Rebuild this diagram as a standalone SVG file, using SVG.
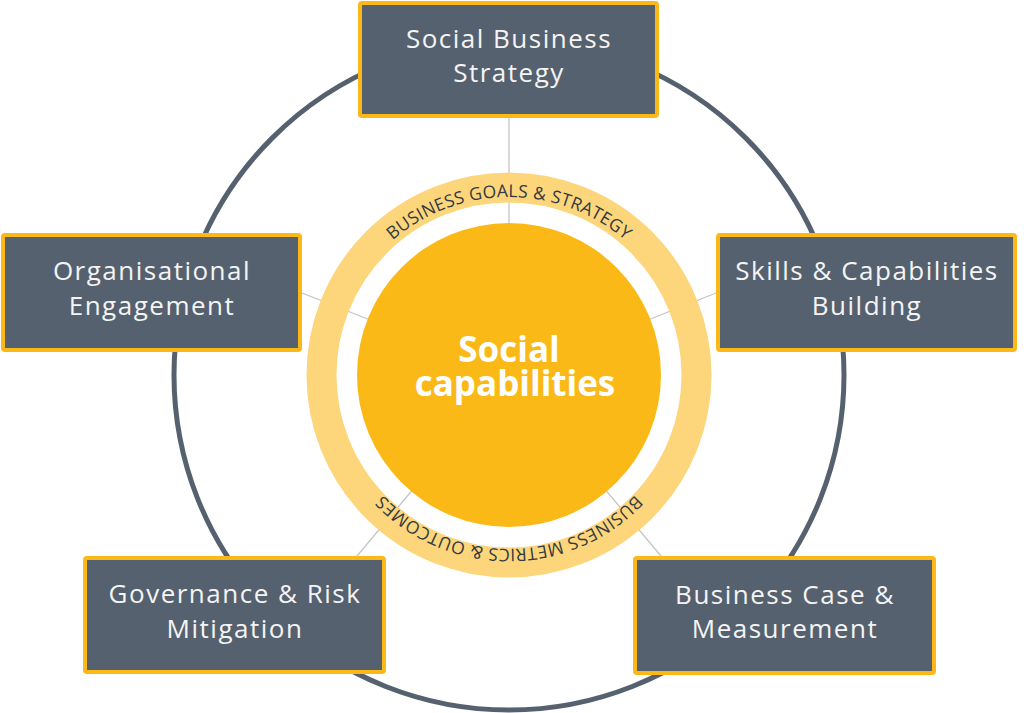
<svg xmlns="http://www.w3.org/2000/svg" width="1024" height="713" viewBox="0 0 1024 713">
<style>
.box{fill:#56616f;stroke:#fbb817;stroke-width:4;}
.bt{font-family:"Open Sans","Liberation Sans",sans-serif;font-size:26px;letter-spacing:1.5px;fill:#f4f4f4;text-anchor:middle;}
.ct{font-family:"Open Sans","Liberation Sans",sans-serif;font-size:17.5px;letter-spacing:0.3px;fill:#333a42;}
.conn{stroke:#c4c4c4;stroke-width:1.3;fill:none;}
</style>
<defs>
<path id="arcTop" d="M 331 375 A 178 178 0 0 1 687 375"/>
<path id="arcBot" d="M 683 375 A 174 174 0 0 1 335 375"/>
</defs>
<rect width="1024" height="713" fill="#ffffff"/>
<circle id="outer-ring" cx="509" cy="375" r="335" fill="none" stroke="#56616f" stroke-width="5"/>
<g id="connectors">
<line class="conn" x1="509" y1="375" x2="509" y2="117"/>
<line class="conn" x1="509" y1="375" x2="302" y2="293"/>
<line class="conn" x1="509" y1="375" x2="716" y2="293"/>
<line class="conn" x1="509" y1="375" x2="357" y2="556"/>
<line class="conn" x1="509" y1="375" x2="661" y2="556"/>
</g>
<g id="center">
<circle cx="509" cy="375" r="187.5" fill="none" stroke="#fdd57b" stroke-width="30"/>
<circle cx="509" cy="375" r="152" fill="#fbb917"/>
<text class="ct"><textPath href="#arcTop" startOffset="50%" text-anchor="middle">BUSINESS GOALS &amp; STRATEGY</textPath></text>
<text class="ct"><textPath href="#arcBot" startOffset="50%" text-anchor="middle">BUSINESS METRICS &amp; OUTCOMES</textPath></text>
<text font-family="'Open Sans','Liberation Sans',sans-serif" font-weight="bold" font-size="35" fill="#ffffff" text-anchor="middle"><tspan x="509" y="362">Social</tspan><tspan x="515" y="396">capabilities</tspan></text>
</g>
<g id="node-strategy">
<rect class="box" x="360" y="3" width="297" height="113" rx="2"/>
<text class="bt"><tspan x="509" y="48">Social Business</tspan><tspan x="509" y="82">Strategy</tspan></text>
</g>
<g id="node-engagement">
<rect class="box" x="3" y="235" width="297" height="115" rx="2"/>
<text class="bt"><tspan x="152" y="280">Organisational</tspan><tspan x="152" y="315">Engagement</tspan></text>
</g>
<g id="node-skills">
<rect class="box" x="718" y="235" width="297" height="115" rx="2"/>
<text class="bt"><tspan x="867" y="280">Skills &amp; Capabilities</tspan><tspan x="867" y="315">Building</tspan></text>
</g>
<g id="node-governance">
<rect class="box" x="85" y="558" width="299" height="114" rx="2"/>
<text class="bt"><tspan x="235" y="603">Governance &amp; Risk</tspan><tspan x="235" y="638">Mitigation</tspan></text>
</g>
<g id="node-business-case">
<rect class="box" x="635" y="558" width="299" height="115" rx="2"/>
<text class="bt"><tspan x="785" y="604">Business Case &amp;</tspan><tspan x="785" y="638">Measurement</tspan></text>
</g>
</svg>
